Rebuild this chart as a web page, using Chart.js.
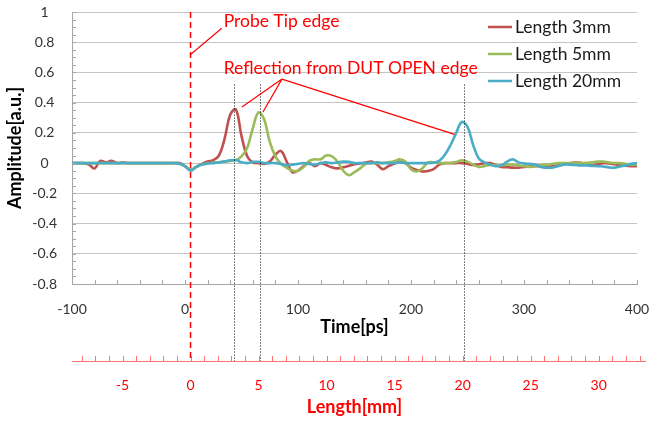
<!DOCTYPE html>
<html>
<head>
<meta charset="utf-8">
<script src="https://cdn.jsdelivr.net/npm/chart.js@4.4.1/dist/chart.umd.min.js"></script>
<style>
  html, body { margin: 0; padding: 0; background: #fff; }
  #wrap { width: 649px; height: 421px; }
</style>
</head>
<body>
<div id="wrap"><canvas id="chart"></canvas></div>
<script>
// time axis [ps]
const times = [
  -100, -95, -90, -85, -80, -75, -70, -65, -60, -55,
  -50, -45, -40, -35, -30, -25, -20, -15, -10, -5,
  0, 5, 10, 15, 20, 25, 30, 35, 40, 45,
  50, 55, 60, 65, 70, 75, 80, 85, 90, 95,
  100, 105, 110, 115, 120, 125, 130, 135, 140, 145,
  150, 155, 160, 165, 170, 175, 180, 185, 190, 195,
  200, 205, 210, 215, 220, 225, 230, 235, 240, 245,
  250, 255, 260, 265, 270, 275, 280, 285, 290, 295,
  300, 305, 310, 315, 320, 325, 330, 335, 340, 345,
  350, 355, 360, 365, 370, 375, 380, 385, 390, 395,
  400
];

const len3mm = [
  0, 0, 0, -0.01, -0.035, 0.015, 0.005, 0.015, 0, 0.005,
  0, 0, 0, 0, 0, 0, 0, 0, 0, 0,
  -0.02, -0.045, -0.025, -0.005, 0.01, 0.02, 0.05, 0.16, 0.32, 0.355,
  0.18, 0.045, 0.005, 0, -0.005, 0.01, 0.055, 0.08, 0.01, -0.06,
  -0.05, -0.02, 0, -0.02, 0, -0.013, -0.028, -0.035, -0.028, -0.018,
  -0.008, -0.002, 0.003, 0.01, -0.01, -0.04, -0.02, -0.005, 0.008, 0,
  -0.03, -0.045, -0.055, -0.052, -0.04, -0.01, 0, 0, 0, 0,
  -0.005, -0.013, -0.008, 0, 0, -0.012, -0.025, -0.027, -0.03, -0.03,
  -0.026, -0.022, -0.02, -0.022, -0.025, -0.02, -0.015, -0.01, -0.002, 0.004,
  0.002, -0.008, -0.015, -0.008, 0, -0.003, -0.008, -0.012, -0.017, -0.02,
  -0.02
];

const len5mm = [
  0, 0, 0, 0, 0, 0, 0, 0, 0, 0,
  0, 0, 0, 0, 0, 0, 0, 0, 0, -0.005,
  -0.02, -0.045, -0.025, -0.008, 0, 0.003, 0.006, 0.01, 0.015, 0.02,
  0.045, 0.1, 0.23, 0.335, 0.29, 0.14, 0.045, -0.005, -0.03, -0.05,
  -0.05, -0.025, 0.015, 0.025, 0.025, 0.05, 0.045, 0.01, -0.05, -0.08,
  -0.06, -0.035, -0.005, 0, 0, 0, 0.005, 0.012, 0.025, 0.01,
  -0.04, -0.055, -0.035, 0.005, 0.005, 0, 0, 0, 0.008, 0.018,
  0.01, -0.01, -0.025, -0.02, -0.012, -0.015, -0.015, -0.01, -0.01, -0.015,
  -0.02, -0.025, -0.02, -0.012, -0.01, -0.005, 0, 0, 0, 0,
  0, 0.002, 0.005, 0.01, 0.01, 0.005, 0, 0, -0.005, -0.01,
  -0.01
];

const len20mm = [
  0, 0, 0, 0, 0, 0, 0, 0, 0, 0,
  0, 0, 0, 0, 0, 0, 0, 0, 0, -0.005,
  -0.02, -0.05, -0.025, -0.01, -0.003, 0, 0.005, 0.01, 0.018, 0.02,
  0.005, 0, 0.008, 0.008, 0, 0, 0, -0.005, -0.015, -0.01,
  -0.005, 0, -0.005, -0.01, 0, 0.005, 0, 0.005, 0.01, 0.008,
  0, 0, 0, 0, 0.005, 0, 0, 0, 0.005, 0,
  0, 0, 0, 0, 0.003, 0.015, 0.055, 0.12, 0.2, 0.272,
  0.24, 0.12, 0.03, 0.005, -0.01, -0.02, -0.015, 0.01, 0.025, 0.005,
  -0.002, -0.005, -0.01, -0.025, -0.03, -0.03, -0.02, -0.01, -0.01, -0.012,
  -0.015, -0.015, -0.018, -0.02, -0.022, -0.028, -0.03, -0.022, -0.015, -0.005,
  0
];

const seriesNames = ['Length 3mm', 'Length 5mm', 'Length 20mm'];
const seriesColors = ['#C0504D', '#9BBB59', '#4BACC6'];

// length axis: 0 mm sits at the probe tip edge
const probeEdgePs = 4.9;
const psPerMm = 12.04;
const lengthAxisEnd = 33.5; // red axis runs a bit past the plot box
// reflection peaks [ps] marked by dotted guides
const peakTimes = [43, 66.4, 246.6];

const probeNote = { text: 'Probe Tip edge', t: 34.2, v: 0.936, lines: [[32.5, 0.892, 4.4, 0.715]] };
const reflNote = { text: 'Reflection from DUT OPEN edge', t: 34.2, v: 0.627,
  lines: [[85.8, 0.556, 50.4, 0.371], [85.8, 0.556, 69, 0.338], [85.8, 0.556, 238.5, 0.19]] };

const axisColor = '#a6a6a6';
const red = '#ff0000';
const lightRed = 'rgba(255,0,0,0.55)';
const font = 'Lato, "Open Sans", sans-serif';

Chart.defaults.font.family = font;

const points = vals => times.map((t, i) => ({ x: t, y: vals[i] }));

// keep the plot box fixed, whatever the edge labels need
const noEdgePad = s => { s.paddingLeft = 0; s.paddingRight = 0; s.paddingTop = 0; s.paddingBottom = 0; };

const overlay = {
  id: 'overlay',
  afterDatasetsDraw(chart) {
    const { ctx, chartArea: ca, scales: { x, y, x2 } } = chart;
    ctx.save();

    // inside minor ticks
    ctx.strokeStyle = axisColor;
    ctx.lineWidth = 1;
    ctx.beginPath();
    for (let v = x.min; v <= x.max; v += 20) {
      const px = Math.round(x.getPixelForValue(v)) + 0.5;
      ctx.moveTo(px, ca.bottom);
      ctx.lineTo(px, ca.bottom - 4);
    }
    for (let i = 0; i <= 36; i++) {
      const py = Math.round(y.getPixelForValue(y.min + i * 0.05)) + 0.5;
      ctx.moveTo(ca.left, py);
      ctx.lineTo(ca.left + 4, py);
    }
    ctx.stroke();

    // length axis ticks (pointing up) and its short overrun to the right
    ctx.strokeStyle = lightRed;
    ctx.beginPath();
    const mmTicks = x2.ticks.map(tk => tk.value);
    for (let v = mmTicks[mmTicks.length - 1] + 1; v <= lengthAxisEnd; v++) mmTicks.push(v);
    mmTicks.forEach(v => {
      const px = Math.round(x2.getPixelForValue(v)) + 0.5;
      ctx.moveTo(px, x2.top);
      ctx.lineTo(px, x2.top - 5);
    });
    ctx.moveTo(x2.right, x2.top + 0.5);
    ctx.lineTo(x2.getPixelForValue(lengthAxisEnd), x2.top + 0.5);
    ctx.stroke();

    // probe tip edge
    const ex = x2.getPixelForValue(0);
    ctx.strokeStyle = red;
    ctx.lineWidth = 1.5;
    ctx.setLineDash([6, 4]);
    ctx.beginPath();
    ctx.moveTo(ex, ca.top);
    ctx.lineTo(ex, x2.top);
    ctx.stroke();

    // peak guides
    ctx.strokeStyle = '#000';
    ctx.lineWidth = 1;
    ctx.setLineDash([1, 2]);
    peakTimes.forEach(t => {
      const px = Math.round(x.getPixelForValue(t)) + 0.5;
      ctx.beginPath();
      ctx.moveTo(px, y.getPixelForValue(0.52));
      ctx.lineTo(px, x2.top);
      ctx.stroke();
    });
    ctx.setLineDash([]);

    // notes
    ctx.strokeStyle = red;
    ctx.fillStyle = red;
    ctx.lineWidth = 1.2;
    ctx.font = '17.5px ' + font;
    ctx.textAlign = 'left';
    ctx.textBaseline = 'middle';
    [probeNote, reflNote].forEach(n => {
      ctx.fillText(n.text, x.getPixelForValue(n.t), y.getPixelForValue(n.v));
      n.lines.forEach(l => {
        ctx.beginPath();
        ctx.moveTo(x.getPixelForValue(l[0]), y.getPixelForValue(l[1]));
        ctx.lineTo(x.getPixelForValue(l[2]), y.getPixelForValue(l[3]));
        ctx.stroke();
      });
    });

    // legend
    ctx.fillStyle = '#1a1a1a';
    seriesNames.forEach((name, i) => {
      const ly = ca.top + 15 + i * 27;
      ctx.strokeStyle = seriesColors[i];
      ctx.lineWidth = 2.5;
      ctx.beginPath();
      ctx.moveTo(ca.right - 149, ly);
      ctx.lineTo(ca.right - 125, ly);
      ctx.stroke();
      ctx.fillText(name, ca.right - 122, ly);
    });
    ctx.restore();
  }
};

new Chart(document.getElementById('chart'), {
  type: 'line',
  data: {
    datasets: [len3mm, len5mm, len20mm].map((vals, i) => ({
      label: seriesNames[i],
      data: points(vals),
      borderColor: seriesColors[i],
      backgroundColor: seriesColors[i],
      borderWidth: 2.6,
      pointRadius: 0,
      tension: 0.4,
      order: 3 - i
    }))
  },
  options: {
    responsive: true,
    maintainAspectRatio: false,
    animation: false,
    layout: { padding: { top: 12, right: 12, left: 0, bottom: 0 } },
    plugins: { legend: { display: false }, tooltip: { enabled: false } },
    scales: {
      y: {
        min: -0.8,
        max: 1,
        ticks: {
          stepSize: 0.2, crossAlign: 'center', padding: 15, color: '#333', font: { size: 14 },
          callback: v => String(Number(v.toFixed(1)))
        },
        grid: { color: '#c4c4c4', drawTicks: false },
        border: { color: axisColor },
        title: { display: true, text: 'Amplitude[a.u.]', color: '#000', font: { size: 18, weight: 'bold' }, padding: { top: 4, bottom: 4 } },
        afterFit: s => { s.width = 72; noEdgePad(s); }
      },
      x: {
        type: 'linear',
        position: 'bottom',
        weight: 0,
        min: -100,
        max: 400,
        ticks: { stepSize: 100, maxRotation: 0, padding: 9, color: '#333', font: { size: 14 } },
        grid: { display: false },
        border: { color: axisColor },
        title: { display: true, text: 'Time[ps]', color: '#000', font: { size: 18, weight: 'bold' }, padding: { top: 23, bottom: 23 } },
        afterFit: s => { s.height = 77; noEdgePad(s); }
      },
      x2: {
        type: 'linear',
        position: 'bottom',
        weight: 1,
        min: (-100 - probeEdgePs) / psPerMm,
        max: (400 - probeEdgePs) / psPerMm,
        ticks: {
          stepSize: 1,
          includeBounds: false,
          autoSkip: false,
          maxRotation: 0,
          padding: 8,
          color: red,
          font: { size: 14 },
          callback: v => (v % 5 === 0 ? v : '')
        },
        grid: { display: false },
        border: { color: lightRed },
        title: { display: true, text: 'Length[mm]', color: red, font: { size: 18, weight: 'bold' }, padding: { top: 3, bottom: 3 } },
        afterFit: s => { s.height = 60; noEdgePad(s); }
      }
    }
  },
  plugins: [overlay]
});
</script>
</body>
</html>
